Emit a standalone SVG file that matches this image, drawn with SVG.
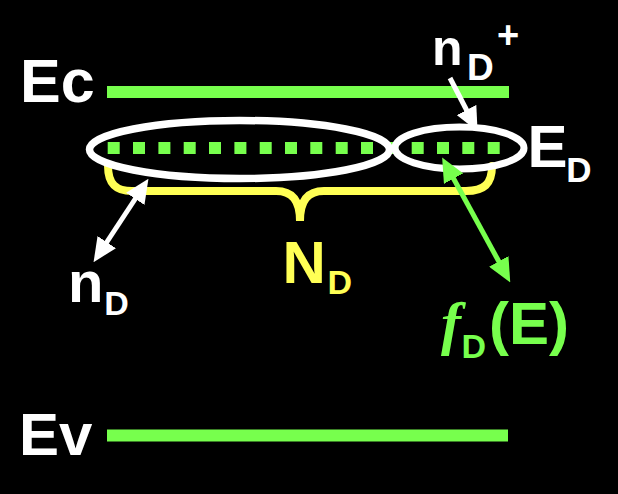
<svg xmlns="http://www.w3.org/2000/svg" width="618" height="494" viewBox="0 0 618 494">
<style>
.t{font-family:"Liberation Sans",Arial,sans-serif;font-weight:bold}
.w{fill:#ffffff}
.g{fill:#77ff4d}
.y{fill:#ffff55}
.lvl{stroke:#77ff4d;stroke-width:12}
.dot{fill:#77ff4d}
.ell{fill:none;stroke:#ffffff}
.arw{stroke:#ffffff;stroke-width:5;fill:none}
.arg{stroke:#77ff4d;stroke-width:5;fill:none}
</style>
<defs>
<marker id="hw" viewBox="0 0 24 22" refX="13" refY="11" markerWidth="24" markerHeight="22" markerUnits="userSpaceOnUse" orient="auto-start-reverse"><path d="M0,0 L24,11 L0,22 z" fill="#ffffff"/></marker>
<marker id="hg" viewBox="0 0 24 22" refX="13" refY="11" markerWidth="24" markerHeight="22" markerUnits="userSpaceOnUse" orient="auto-start-reverse"><path d="M0,0 L24,11 L0,22 z" fill="#77ff4d"/></marker>
</defs>
<rect width="618" height="494" fill="#000000"/>
<g id="Ec">
<line class="lvl" x1="107" y1="92" x2="509" y2="92"/>
<text class="t w" x="20" y="102" font-size="61">Ec</text>
</g>
<g id="Ev">
<line class="lvl" x1="107" y1="435.5" x2="508" y2="435.5"/>
<text class="t w" x="19" y="455" font-size="60">Ev</text>
</g>
<g id="NDbrace">
<path d="M108,166 C108,184 116,191 132,191 L276,191 C292,191 300,200 300,221 C300,200 308,191 324,191 L466,191 C484,191 492,184 492,166" fill="none" stroke="#ffff55" stroke-width="8" stroke-linecap="round"/>
</g>
<g id="ED-level">
<rect class="dot" x="107.7" y="142" width="12" height="12"/>
<rect class="dot" x="133" y="142" width="12" height="12"/>
<rect class="dot" x="158.4" y="142" width="12" height="12"/>
<rect class="dot" x="183.7" y="142" width="12" height="12"/>
<rect class="dot" x="209" y="142" width="12" height="12"/>
<rect class="dot" x="234.4" y="142" width="12" height="12"/>
<rect class="dot" x="259.7" y="142" width="12" height="12"/>
<rect class="dot" x="285" y="142" width="12" height="12"/>
<rect class="dot" x="310.3" y="142" width="12" height="12"/>
<rect class="dot" x="335.7" y="142" width="12" height="12"/>
<rect class="dot" x="361" y="142" width="12" height="12"/>
<rect class="dot" x="386.3" y="142" width="12" height="12"/>
<rect class="dot" x="411.7" y="142" width="12" height="12"/>
<rect class="dot" x="437" y="142" width="12" height="12"/>
<rect class="dot" x="462.3" y="142" width="12" height="12"/>
<rect class="dot" x="487.7" y="142" width="12" height="12"/>
</g>
<g id="nD-ellipse">
<ellipse class="ell" cx="239.5" cy="149.5" rx="150" ry="29" stroke-width="7.5"/>
</g>
<g id="nDplus-ellipse">
<ellipse class="ell" cx="459.5" cy="148" rx="64.5" ry="21" stroke-width="7"/>
</g>
<g id="connectors">
<line class="arw" x1="450" y1="78" x2="472.5" y2="121.5" marker-end="url(#hw)"/>
<line class="arw" x1="99.6" y1="253" x2="142.4" y2="188" marker-start="url(#hw)" marker-end="url(#hw)"/>
<line class="arg" x1="447.4" y1="167.2" x2="505" y2="272.8" marker-start="url(#hg)" marker-end="url(#hg)"/>
</g>
<g id="label-nDplus">
<text class="t w" x="432" y="65" font-size="50">n</text>
<text class="t w" x="467" y="80" font-size="37">D</text>
<text class="t w" x="497" y="48" font-size="38">+</text>
</g>
<g id="label-ED">
<text class="t w" x="527.6" y="167" font-size="60">E</text>
<text class="t w" x="566.3" y="182" font-size="35">D</text>
</g>
<g id="label-nD">
<text class="t w" x="68" y="302" font-size="58">n</text>
<text class="t w" x="104.3" y="315" font-size="34">D</text>
</g>
<g id="label-ND">
<text class="t y" x="282.6" y="283" font-size="60">N</text>
<text class="t y" x="327.4" y="294" font-size="34">D</text>
</g>
<g id="label-fD">
<text class="g" x="441" y="343" font-size="60" font-weight="bold" font-family="'Liberation Serif','Times New Roman',serif" font-style="italic">f</text>
<text class="t g" x="461.4" y="358" font-size="34">D</text>
<text class="t g" x="489" y="344" font-size="60">(E)</text>
</g>
</svg>
